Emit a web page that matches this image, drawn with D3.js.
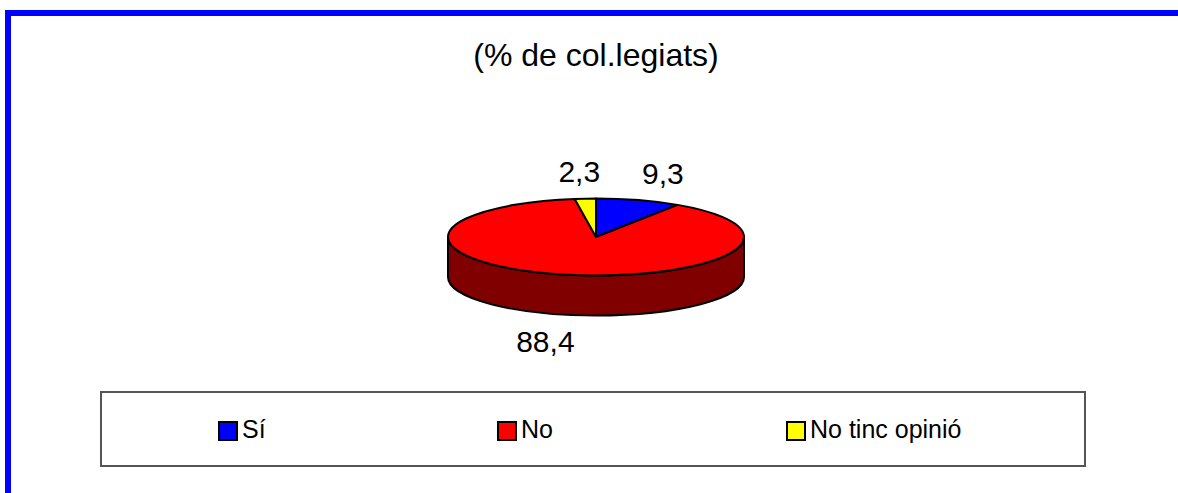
<!DOCTYPE html>
<html>
<head>
<meta charset="utf-8">
<script src="https://cdn.jsdelivr.net/npm/d3@7"></script>
<style>
  html, body { margin: 0; padding: 0; background: #fff; }
  svg { display: block; font-family: "Liberation Sans", Arial, sans-serif; }
</style>
</head>
<body>
<svg id="chart" width="1178" height="493"></svg>
<script>
// ---- data ----
const title = "(% de col.legiats)";
const categories = ["Sí", "No", "No tinc opinió"];
const values = [9.3, 88.4, 2.3];
const colors = ["#0000FF", "#FF0000", "#FFFF00"];
const sideColors = ["#000080", "#800000", "#808000"];

// ---- layout ----
const W = 1178, H = 493;
const cx = 596, cy = 237, rx = 148, ry = 38.5, depth = 40;
const labelRx = 232, labelRy = 66;
const legendBox = { x: 101, y: 392, w: 984, h: 74 };
const legendX = [218, 497, 786];

const svg = d3.select("#chart");

// frame
svg.append("rect")
  .attr("x", 8).attr("y", 13)
  .attr("width", W + 20).attr("height", H + 20)
  .attr("fill", "none").attr("stroke", "#0000FF").attr("stroke-width", 6);

// title
svg.append("text")
  .attr("x", 596).attr("y", 66)
  .attr("text-anchor", "middle")
  .attr("font-size", 32)
  .attr("fill", "#000")
  .text(title);

const color = d3.scaleOrdinal().domain(categories).range(colors);
const sideColor = d3.scaleOrdinal().domain(categories).range(sideColors);

const pie = d3.pie().sort(null).startAngle(0).endAngle(2 * Math.PI)
  .value((d, i) => values[i]);
const arcs = pie(categories);

const pt = (a, dy = 0) => [cx + rx * Math.sin(a), cy - ry * Math.cos(a) + dy];

// side (front half) – coloured by slice covering the front
const g = svg.append("g");
function sideSegment(a0, a1) {
  // clip to front half [PI/2, 3PI/2]
  const s = Math.max(a0, Math.PI / 2), e = Math.min(a1, 3 * Math.PI / 2);
  if (e <= s) return null;
  const p0 = pt(s), p1 = pt(e), q1 = pt(e, depth), q0 = pt(s, depth);
  return `M${p0}A${rx},${ry} 0 0 1 ${p1}L${q1}A${rx},${ry} 0 0 0 ${q0}Z`;
}
arcs.forEach(d => {
  const p = sideSegment(d.startAngle, d.endAngle);
  if (p) g.append("path").attr("d", p)
    .attr("fill", sideColor(d.data))
    .attr("stroke", "#000").attr("stroke-width", 2).attr("stroke-linejoin", "round");
});

// top slices
arcs.forEach(d => {
  const p0 = pt(d.startAngle), p1 = pt(d.endAngle);
  const large = (d.endAngle - d.startAngle) > Math.PI ? 1 : 0;
  g.append("path")
    .attr("d", `M${cx},${cy}L${p0}A${rx},${ry} 0 ${large} 1 ${p1}Z`)
    .attr("fill", color(d.data))
    .attr("stroke", "#000").attr("stroke-width", 2).attr("stroke-linejoin", "round");
});

// labels
arcs.forEach((d, i) => {
  const a = (d.startAngle + d.endAngle) / 2;
  const x = cx + labelRx * Math.sin(a);
  const y = cy - labelRy * Math.cos(a) + (Math.cos(a) < 0 ? depth : 0);
  svg.append("text")
    .attr("x", x).attr("y", y)
    .attr("text-anchor", "middle")
    .attr("dominant-baseline", "central")
    .attr("font-size", 30)
    .text(String(values[i]).replace(".", ","));
});

// legend
svg.append("rect")
  .attr("x", legendBox.x).attr("y", legendBox.y)
  .attr("width", legendBox.w).attr("height", legendBox.h)
  .attr("fill", "#fff").attr("stroke", "#555").attr("stroke-width", 2);

const leg = svg.append("g").selectAll("g").data(categories).join("g")
  .attr("transform", (d, i) => `translate(${legendX[i]},421)`);
leg.append("rect")
  .attr("x", 1).attr("y", 1).attr("width", 18).attr("height", 18)
  .attr("fill", d => color(d)).attr("stroke", "#000").attr("stroke-width", 2);
leg.append("text")
  .attr("x", 24).attr("y", 17)
  .attr("font-size", 25)
  .text(d => d);
</script>
</body>
</html>
